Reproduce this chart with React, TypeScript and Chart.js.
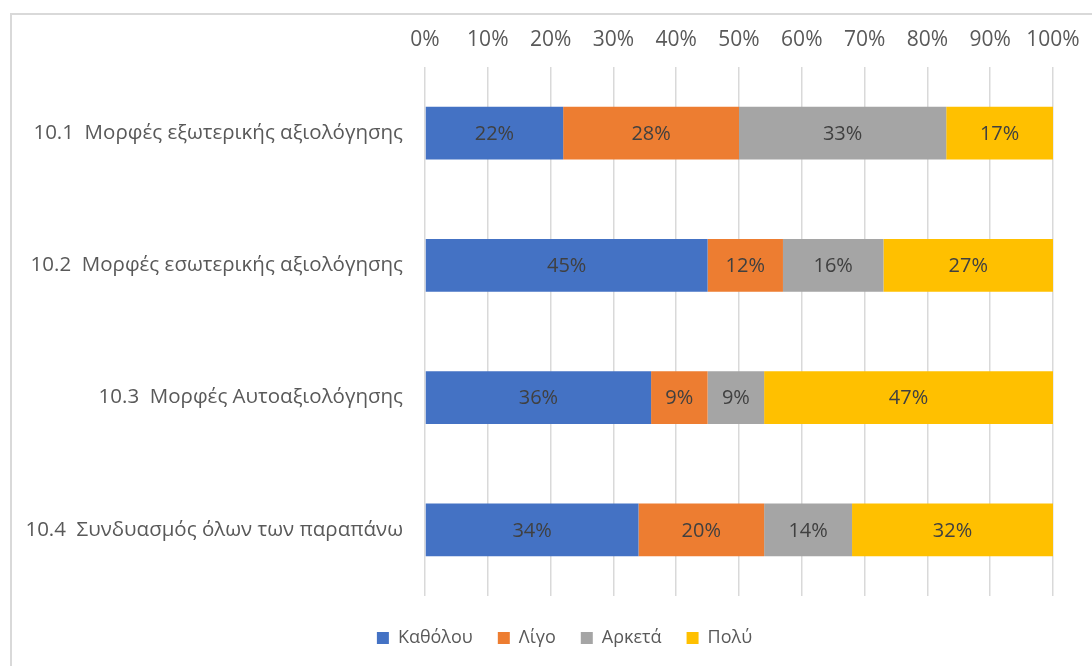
import { useEffect, useRef } from "react";
import { Chart, registerables } from "chart.js";

Chart.register(...registerables);

// Survey items (category axis)
const categories = [
  "10.1  Μορφές εξωτερικής αξιολόγησης",
  "10.2  Μορφές εσωτερικής αξιολόγησης",
  "10.3  Μορφές Αυτοαξιολόγησης",
  "10.4  Συνδυασμός όλων των παραπάνω",
];

// Response levels (legend order)
const seriesNames = ["Καθόλου", "Λίγο", "Αρκετά", "Πολύ"];

// Share of answers per level, in percent
const katholou = [22, 45, 36, 34];
const ligo = [28, 12, 9, 20];
const arketa = [33, 16, 9, 14];
const poly = [17, 27, 47, 32];

const seriesColors = ["#4472C4", "#ED7D31", "#A5A5A5", "#FFC000"];

// Percent axis ticks
const xTickValues = [0, 10, 20, 30, 40, 50, 60, 70, 80, 90, 100];

const FONT = "'Open Sans', 'Noto Sans', 'DejaVu Sans', sans-serif";
const TEXT = "#595959";

// Writes each segment's value in the middle of its visible part
const barValueLabels = {
  id: "barValueLabels",
  afterDatasetsDraw(chart: any) {
    const { ctx, chartArea } = chart;
    ctx.save();
    ctx.font = `20px ${FONT}`;
    ctx.fillStyle = "#404040";
    ctx.textAlign = "center";
    ctx.textBaseline = "middle";
    chart.data.datasets.forEach((ds: any, i: number) => {
      const meta = chart.getDatasetMeta(i);
      if (meta.hidden) return;
      meta.data.forEach((bar: any, j: number) => {
        const { x, base, y } = bar.getProps(["x", "base", "y"], true);
        const left = Math.max(Math.min(x, base), chartArea.left);
        const right = Math.min(Math.max(x, base), chartArea.right);
        ctx.fillText(`${ds.data[j]}%`, (left + right) / 2, y + 1);
      });
    });
    ctx.restore();
  },
};

// Centers the legend under the whole frame and leaves a gap below the plot
const legendOffset = {
  id: "legendOffset",
  afterLayout(chart: any) {
    const legend = chart.legend;
    if (!legend) return;
    const dx = 32;
    const dy = 8;
    legend.left += dx;
    legend.right += dx;
    legend.top += dy;
    legend.bottom += dy;
  },
};

export default function App() {
  const canvasRef = useRef<HTMLCanvasElement | null>(null);

  useEffect(() => {
    if (!canvasRef.current) return;
    const values = [katholou, ligo, arketa, poly];
    const chart = new Chart(canvasRef.current, {
      type: "bar",
      data: {
        labels: categories,
        datasets: seriesNames.map((name, i) => ({
          label: name,
          data: values[i],
          backgroundColor: seriesColors[i],
          borderWidth: 0,
          barPercentage: 0.4,
          categoryPercentage: 1,
          clip: 0,
        })),
      },
      options: {
        indexAxis: "y",
        animation: false,
        responsive: true,
        maintainAspectRatio: false,
        layout: { padding: { left: 0, right: 67, top: 0, bottom: 54 } },
        scales: {
          x: {
            position: "top",
            stacked: true,
            min: 0,
            max: 100,
            afterBuildTicks(scale: any) {
              scale.ticks = xTickValues.map((v) => ({ value: v }));
            },
            afterFit(scale: any) {
              scale.height = 52;
            },
            grid: {
              color: "#D9D9D9",
              lineWidth: 1.5,
              drawTicks: false,
            },
            border: { display: false },
            ticks: {
              padding: 14,
              color: TEXT,
              font: { family: FONT, size: 21 },
              callback: (v: any) => `${v}%`,
            },
          },
          y: {
            stacked: true,
            afterFit(scale: any) {
              scale.width = 413;
            },
            grid: { display: false, drawTicks: false },
            border: { display: false },
            ticks: {
              padding: 22,
              color: TEXT,
              font: { family: FONT, size: 20.5 },
            },
          },
        },
        plugins: {
          legend: {
            position: "bottom",
            labels: {
              boxWidth: 12,
              boxHeight: 12,
              padding: 25,
              color: TEXT,
              font: { family: FONT, size: 18 },
            },
          },
          tooltip: { enabled: false },
        },
      },
      plugins: [barValueLabels, legendOffset],
    });
    return () => chart.destroy();
  }, []);

  return (
    <div
      style={{
        position: "fixed",
        left: 0,
        top: 0,
        width: 1092,
        height: 666,
        overflow: "hidden",
        background: "#fff",
      }}
    >
      <div
        style={{
          position: "absolute",
          left: 10,
          top: 13,
          width: 1110,
          height: 690,
          boxSizing: "border-box",
          borderTop: "2px solid #D9D9D9",
          borderLeft: "2px solid #D9D9D9",
        }}
      >
        <div style={{ position: "relative", width: 1108, height: 688 }}>
          <canvas ref={canvasRef} />
        </div>
      </div>
    </div>
  );
}
